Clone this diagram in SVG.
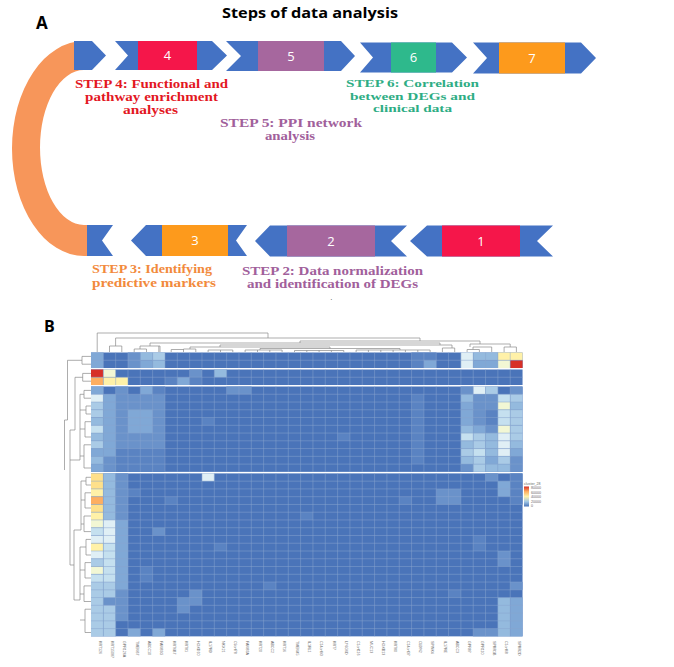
<svg xmlns="http://www.w3.org/2000/svg" width="674" height="667" viewBox="0 0 674 667">
<style>
.bl{fill:#4472C4}
.num{font-family:"Open Sans",sans-serif;font-size:13px;fill:#fff;text-anchor:middle}
.st{font-family:"Liberation Serif",serif;font-weight:bold;font-size:12.2px}
.st6{font-size:10.6px}
.hd{font-family:"Open Sans",sans-serif;font-weight:bold}
.d0{fill:#4a74b9}.c1{fill:#5a83c2}.c2{fill:#6a92ca}.c3{fill:#80a8d6}.c4{fill:#94bade}.c5{fill:#aacbe6}.c6{fill:#c5e0ef}.c7{fill:#e0eff5}
.y1{fill:#f2f7d4}.y2{fill:#fff1a8}.y3{fill:#fee08b}.o1{fill:#fdae61}.r1{fill:#d73027}
.grid{fill:none;stroke:#88a5cf;stroke-width:0.5}
.den{fill:none;stroke:#8a8a8a;stroke-width:0.7}
.gl{font-family:"Liberation Sans",sans-serif;font-size:3.6px;fill:#666}
</style>
<rect width="674" height="667" fill="#fff"/>
<text class="hd" x="36" y="29" font-size="17">A</text>
<text class="hd" x="222" y="18" font-size="14" textLength="176" lengthAdjust="spacingAndGlyphs">Steps of data analysis</text>
<text class="hd" x="44" y="332" font-size="16">B</text>

<g id="arc"><path d="M84 41 A72 107.5 0 0 0 84 256 L90 256 L90 225 L84 225 A44 77.5 0 0 1 84 70 Z" fill="#F7965A"/></g>

<g id="step-top1"><polygon class="bl" points="74,41 92,41 106,55.5 92,70 74,70"/></g>
<g id="step4"><polygon class="bl" points="115,41 212,41 227,55.5 212,70 115,70 128,55.5"/><rect x="138" y="41" width="59" height="29" fill="#F5164A"/><text class="num" x="167.5" y="60">4</text></g>
<g id="step5"><polygon class="bl" points="226,41 341,41 355,56 341,71 226,71 241,56"/><rect x="258" y="41" width="66" height="30" fill="#A6679E"/><text class="num" x="291" y="60.5">5</text></g>
<g id="step6"><polygon class="bl" points="360,42.5 452,42.5 467,57.5 452,72.5 360,72.5 373,57.5"/><rect x="391" y="42.5" width="45" height="30" fill="#2EB98C"/><text class="num" x="413.5" y="62">6</text></g>
<g id="step7"><polygon class="bl" points="473,42.5 581,42.5 596,58 581,73.5 473,73.5 487,58"/><rect x="499" y="42.5" width="66" height="31" fill="#FD9A1C"/><text class="num" x="532" y="63">7</text></g>

<g id="step-bot1"><polygon class="bl" points="87,225 113,225 102,240.5 113,256 87,256"/></g>
<g id="step3"><polygon class="bl" points="131,240.5 146,225 247,225 236,240.5 247,256 146,256"/><rect x="162" y="225" width="66" height="31" fill="#FD9A1C"/><text class="num" x="195" y="245">3</text></g>
<g id="step2"><polygon class="bl" points="255,241 270,225.5 407,225.5 391,241 407,256.5 270,256.5"/><rect x="287" y="225.5" width="88" height="31" fill="#A6679E"/><text class="num" x="331" y="245.5">2</text></g>
<g id="step1"><polygon class="bl" points="410,241 427,225.5 553,225.5 537,241 553,256.5 427,256.5"/><rect x="442" y="225.5" width="78" height="31" fill="#F5164A"/><text class="num" x="481" y="245.5">1</text></g>

<g id="labels">
<g class="st" fill="#E3171F"><text x="75" y="88" textLength="153" lengthAdjust="spacingAndGlyphs">STEP 4: Functional and</text><text x="85" y="101" textLength="133" lengthAdjust="spacingAndGlyphs">pathway enrichment</text><text x="123" y="114" textLength="55" lengthAdjust="spacingAndGlyphs">analyses</text></g>
<g class="st" fill="#A1609B"><text x="220" y="127" textLength="142" lengthAdjust="spacingAndGlyphs">STEP 5: PPI network</text><text x="265" y="139.5" textLength="50" lengthAdjust="spacingAndGlyphs">analysis</text></g>
<g class="st st6" fill="#2EAD84"><text x="346" y="87.3" textLength="133" lengthAdjust="spacingAndGlyphs">STEP 6: Correlation</text><text x="350" y="99.7" textLength="125" lengthAdjust="spacingAndGlyphs">between DEGs and</text><text x="373" y="112.1" textLength="79" lengthAdjust="spacingAndGlyphs">clinical data</text></g>
<g class="st" fill="#F28A3C"><text x="92" y="273" textLength="120" lengthAdjust="spacingAndGlyphs">STEP 3: Identifying</text><text x="92" y="287" textLength="124" lengthAdjust="spacingAndGlyphs">predictive markers</text></g>
<g class="st" fill="#A1609B"><text x="242" y="275" textLength="181" lengthAdjust="spacingAndGlyphs">STEP 2: Data normalization</text><text x="247" y="288" textLength="171" lengthAdjust="spacingAndGlyphs">and identification of DEGs</text></g>
<text x="330.5" y="300" font-family="Liberation Serif" font-size="7" fill="#333">.</text>
</g>

<g id="heatmap">
<g transform="translate(91,352.5) scale(12.33,7.76)">
<rect class="d0" width="35" height="2"/>
<rect class="c3" x="0" y="0" width="1" height="2"/><rect class="c2" x="3" y="0" width="1" height="2"/><rect class="c4" x="4" y="0" width="1" height="1"/><rect class="c3" x="4" y="1" width="1" height="1"/><rect class="c5" x="5" y="0" width="1" height="1"/><rect class="c4" x="5" y="1" width="1" height="1"/>
<rect class="c1" x="26" y="0" width="2" height="1"/><rect class="c1" x="26" y="1" width="1" height="1"/><rect class="c3" x="27" y="1" width="1" height="1"/>
<rect class="c7" x="30" y="0" width="1" height="2"/><rect class="c4" x="31" y="0" width="2" height="1"/><rect class="c3" x="31" y="1" width="2" height="1"/>
<rect class="y2" x="33" y="0" width="2" height="1"/><rect class="y1" x="33" y="1" width="1" height="1"/><rect class="r1" x="34" y="1" width="1" height="1"/>
<path class="grid" vector-effect="non-scaling-stroke" d="M1 0V2M2 0V2M3 0V2M4 0V2M5 0V2M6 0V2M7 0V2M8 0V2M9 0V2M10 0V2M11 0V2M12 0V2M13 0V2M14 0V2M15 0V2M16 0V2M17 0V2M18 0V2M19 0V2M20 0V2M21 0V2M22 0V2M23 0V2M24 0V2M25 0V2M26 0V2M27 0V2M28 0V2M29 0V2M30 0V2M31 0V2M32 0V2M33 0V2M34 0V2M0 1H35"/>
</g>
<g transform="translate(91,369.5) scale(12.33,7.76)">
<rect class="d0" width="35" height="2"/>
<rect class="r1" x="0" y="0" width="1" height="1"/><rect class="y1" x="1" y="0" width="1" height="1"/><rect class="c2" x="8" y="0" width="1" height="1"/><rect class="c4" x="10" y="0" width="1" height="1"/>
<rect class="o1" x="0" y="1" width="1" height="1"/><rect class="y2" x="1" y="1" width="2" height="1"/><rect class="c1" x="6" y="1" width="1" height="1"/><rect class="c3" x="7" y="1" width="1" height="1"/><rect class="c1" x="8" y="1" width="1" height="1"/>
<path class="grid" vector-effect="non-scaling-stroke" d="M1 0V2M2 0V2M3 0V2M4 0V2M5 0V2M6 0V2M7 0V2M8 0V2M9 0V2M10 0V2M11 0V2M12 0V2M13 0V2M14 0V2M15 0V2M16 0V2M17 0V2M18 0V2M19 0V2M20 0V2M21 0V2M22 0V2M23 0V2M24 0V2M25 0V2M26 0V2M27 0V2M28 0V2M29 0V2M30 0V2M31 0V2M32 0V2M33 0V2M34 0V2M0 1H35"/>
</g>
<g transform="translate(91,386.5) scale(12.33,7.76)">
<rect class="d0" width="35" height="11"/>
<rect class="c2" x="1" y="1" width="5" height="10"/><rect class="c1" x="2" y="8" width="4" height="3"/>
<rect class="c3" x="0" y="0" width="1" height="1"/><rect class="c2" x="2" y="0" width="1" height="1"/><rect class="c3" x="4" y="0" width="1" height="1"/><rect class="c1" x="5" y="0" width="1" height="1"/><rect class="c2" x="11" y="0" width="2" height="1"/>
<rect class="c7" x="0" y="1" width="1" height="1"/><rect class="c3" x="1" y="1" width="1" height="1"/>
<rect class="c5" x="0" y="2" width="1" height="1"/><rect class="c5" x="0" y="3" width="1" height="1"/><rect class="c4" x="0" y="4" width="1" height="1"/><rect class="c6" x="0" y="5" width="1" height="1"/><rect class="c4" x="0" y="6" width="1" height="1"/><rect class="c5" x="0" y="7" width="1" height="1"/><rect class="c3" x="0" y="8" width="1" height="1"/><rect class="c4" x="0" y="9" width="1" height="1"/><rect class="c3" x="0" y="10" width="1" height="1"/>
<rect class="c3" x="1" y="2" width="1" height="7"/><rect class="c3" x="3" y="3" width="2" height="3"/>
<rect class="c1" x="26" y="1" width="1" height="9"/><rect class="c1" x="20" y="6" width="1" height="1"/><rect class="c1" x="9" y="4" width="1" height="1"/>
<rect class="c2" x="30" y="0" width="1" height="1"/><rect class="c7" x="31" y="0" width="1" height="1"/><rect class="c5" x="32" y="0" width="1" height="1"/><rect class="c2" x="34" y="0" width="1" height="1"/>
<rect class="c4" x="30" y="1" width="1" height="1"/><rect class="c2" x="31" y="1" width="2" height="1"/><rect class="c6" x="33" y="1" width="1" height="1"/><rect class="c5" x="34" y="1" width="1" height="1"/>
<rect class="c3" x="30" y="2" width="1" height="1"/><rect class="c2" x="31" y="2" width="2" height="1"/><rect class="y1" x="33" y="2" width="1" height="1"/><rect class="c4" x="34" y="2" width="1" height="1"/>
<rect class="c3" x="30" y="3" width="1" height="2"/><rect class="c2" x="31" y="3" width="1" height="2"/><rect class="c1" x="32" y="3" width="1" height="2"/><rect class="c6" x="33" y="3" width="1" height="2"/><rect class="c5" x="34" y="3" width="1" height="2"/>
<rect class="c4" x="30" y="5" width="1" height="1"/><rect class="c3" x="31" y="5" width="1" height="1"/><rect class="c2" x="32" y="5" width="1" height="1"/><rect class="y1" x="33" y="5" width="1" height="1"/><rect class="c5" x="34" y="5" width="1" height="1"/>
<rect class="c6" x="30" y="6" width="1" height="1"/><rect class="c5" x="31" y="6" width="1" height="1"/><rect class="c4" x="32" y="6" width="1" height="1"/><rect class="c7" x="33" y="6" width="1" height="1"/><rect class="c5" x="34" y="6" width="1" height="1"/>
<rect class="c4" x="30" y="7" width="1" height="1"/><rect class="c5" x="31" y="7" width="1" height="1"/><rect class="c4" x="32" y="7" width="1" height="1"/><rect class="c7" x="33" y="7" width="1" height="1"/><rect class="c4" x="34" y="7" width="1" height="1"/>
<rect class="c5" x="30" y="8" width="1" height="1"/><rect class="c6" x="31" y="8" width="1" height="1"/><rect class="c4" x="32" y="8" width="1" height="1"/><rect class="c7" x="33" y="8" width="1" height="1"/><rect class="c3" x="34" y="8" width="1" height="1"/>
<rect class="c4" x="30" y="9" width="1" height="1"/><rect class="c5" x="31" y="9" width="1" height="1"/><rect class="c3" x="32" y="9" width="1" height="1"/><rect class="c5" x="33" y="9" width="1" height="1"/><rect class="c2" x="34" y="9" width="1" height="1"/>
<rect class="c2" x="30" y="10" width="1" height="1"/><rect class="c5" x="31" y="10" width="1" height="1"/><rect class="c4" x="32" y="10" width="1" height="1"/><rect class="c4" x="33" y="10" width="1" height="1"/><rect class="c2" x="34" y="10" width="1" height="1"/>
<path class="grid" vector-effect="non-scaling-stroke" d="M1 0V11M2 0V11M3 0V11M4 0V11M5 0V11M6 0V11M7 0V11M8 0V11M9 0V11M10 0V11M11 0V11M12 0V11M13 0V11M14 0V11M15 0V11M16 0V11M17 0V11M18 0V11M19 0V11M20 0V11M21 0V11M22 0V11M23 0V11M24 0V11M25 0V11M26 0V11M27 0V11M28 0V11M29 0V11M30 0V11M31 0V11M32 0V11M33 0V11M34 0V11M0 1H35M0 2H35M0 3H35M0 4H35M0 5H35M0 6H35M0 7H35M0 8H35M0 9H35M0 10H35"/>
</g>
<g transform="translate(91,473.4) scale(12.33,7.76)">
<rect class="d0" width="35" height="21"/>
<rect class="c7" x="9" y="0" width="1" height="1"/>
<rect class="y3" x="0" y="0" width="1" height="2"/><rect class="y2" x="0" y="2" width="1" height="1"/><rect class="o1" x="0" y="3" width="1" height="1"/><rect class="y3" x="0" y="4" width="1" height="1"/><rect class="y2" x="0" y="5" width="1" height="1"/><rect class="y1" x="0" y="6" width="1" height="1"/><rect class="c6" x="0" y="7" width="1" height="1"/><rect class="c7" x="0" y="8" width="1" height="1"/><rect class="y2" x="0" y="9" width="1" height="1"/><rect class="c7" x="0" y="10" width="1" height="1"/><rect class="c5" x="0" y="11" width="1" height="1"/><rect class="y1" x="0" y="12" width="1" height="1"/><rect class="c6" x="0" y="13" width="1" height="1"/><rect class="c5" x="0" y="14" width="1" height="7"/>
<rect class="c4" x="1" y="0" width="1" height="6"/><rect class="c7" x="1" y="6" width="1" height="3"/><rect class="c6" x="1" y="9" width="1" height="5"/><rect class="c5" x="1" y="14" width="1" height="7"/><rect class="c2" x="1" y="16" width="1" height="1"/>
<rect class="c2" x="2" y="0" width="1" height="6"/><rect class="c3" x="2" y="6" width="1" height="9"/><rect class="c2" x="2" y="15" width="1" height="4"/>
<rect class="c1" x="3" y="2" width="1" height="1"/><rect class="c2" x="5" y="7" width="1" height="1"/><rect class="c1" x="6" y="3" width="1" height="1"/><rect class="c2" x="7" y="16" width="1" height="2"/><rect class="c2" x="8" y="15" width="1" height="2"/><rect class="c3" x="3" y="20" width="1" height="1"/><rect class="c3" x="5" y="20" width="1" height="1"/><rect class="c1" x="4" y="12" width="1" height="2"/><rect class="c1" x="10" y="9" width="1" height="1"/><rect class="c1" x="14" y="14" width="1" height="1"/><rect class="c1" x="17" y="5" width="1" height="1"/>
<rect class="c1" x="25" y="3" width="1" height="1"/><rect class="c2" x="28" y="2" width="2" height="2"/><rect class="c1" x="29" y="15" width="1" height="1"/><rect class="c2" x="32" y="0" width="1" height="1"/><rect class="c3" x="33" y="1" width="1" height="2"/><rect class="c1" x="34" y="0" width="1" height="4"/><rect class="c1" x="31" y="8" width="1" height="2"/><rect class="c2" x="33" y="10" width="1" height="2"/>
<rect class="c4" x="33" y="16" width="1" height="5"/><rect class="c3" x="34" y="16" width="1" height="5"/><rect class="c2" x="31" y="20" width="2" height="1"/><rect class="c2" x="34" y="14" width="1" height="1"/>
<path class="grid" vector-effect="non-scaling-stroke" d="M1 0V21M2 0V21M3 0V21M4 0V21M5 0V21M6 0V21M7 0V21M8 0V21M9 0V21M10 0V21M11 0V21M12 0V21M13 0V21M14 0V21M15 0V21M16 0V21M17 0V21M18 0V21M19 0V21M20 0V21M21 0V21M22 0V21M23 0V21M24 0V21M25 0V21M26 0V21M27 0V21M28 0V21M29 0V21M30 0V21M31 0V21M32 0V21M33 0V21M34 0V21M0 1H35M0 2H35M0 3H35M0 4H35M0 5H35M0 6H35M0 7H35M0 8H35M0 9H35M0 10H35M0 11H35M0 12H35M0 13H35M0 14H35M0 15H35M0 16H35M0 17H35M0 18H35M0 19H35M0 20H35"/>
</g>
</g>

<g id="dendrograms">
<path class="den" d="M97.2 352V333H268V338M115.6 338H420M115.6 338V346M109.5 352V346H121.8V352M420 338V341M300 341H480M480 341V344M470 344H510.2M510.2 344V347M504.1 352V347H516.4V352M470 344V347M473 347H491.7M473 347V349.5M467.1 352V349.5H479.4V352M491.7 347V352M300 341V343M150 343H440M150 343V346M140 346H160M140 346V349M134.2 352V349H146.5V352M160 346V352M440 343V345M220 345H452M220 345V347M452 345V348M442.4 352V348H454.7V352M190 347H330M190 347V349M183.5 352V349H195.8V352M171.2 352V349.5H183.5M330 347V348.5M260 348.5H400M260 348.5V350M400 348.5V350M208.1 352V350H232.8V352M245.1 352V350H282.1V352M294.5 352V350.5H343.8V352M356.1 352V350H430.1V352M220.5 350V352M306.8 350.5V352M319.1 350.5V352M331.4 350.5V352M368.4 350V352M380.8 350V352M393.1 350V352M405.4 350V352M417.8 350V352M257.5 350V352M269.8 350V352M158.8 346V352"/>
<path class="den" d="M91 356.4H82V364.2H91M82 360.3H67.5V420M91 373.4H82.7V381.2H91M82.7 377.3H75V430M75 430H70M67.5 420H64.5V470M91 390.4H84V398.2H91M84 394.3H80V460M91 406H86V414H91M86 410H80M91 421.7H85V437H91M85 429H80M91 444.8H84V468H91M84 456H80M80 460H70M70 430V520M91 477.3H86V485H91M86 481H81V530M91 492.8H85V508H91M85 500H81M91 516H84V531.6H91M84 524H81M81 530H74M91 539.4H86V555H91M86 547H80V600M91 562.6H85V578H91M85 570H80M91 585.9H84V601.5H91M84 594H80M91 609.2H85V632.5H91M85 620H80M80 600H74M74 530V600M74 565H70M70 520V565"/>
</g>

<g id="col-labels" class="gl">
<text transform="translate(98.5,641) rotate(90)">KRT126</text>
<text transform="translate(110.8,641) rotate(90)">KRT15087</text>
<text transform="translate(123.1,641) rotate(90)">GPR126A</text>
<text transform="translate(135.5,641) rotate(90)">TMEM67</text>
<text transform="translate(147.8,641) rotate(90)">ABCC10</text>
<text transform="translate(160.1,641) rotate(90)">FAM83G</text>
<text transform="translate(172.5,641) rotate(90)">KRT6B7</text>
<text transform="translate(184.8,641) rotate(90)">KRT81</text>
<text transform="translate(197.1,641) rotate(90)">HOXD10</text>
<text transform="translate(209.4,641) rotate(90)">IL17RD</text>
<text transform="translate(221.8,641) rotate(90)">NKX21</text>
<text transform="translate(234.1,641) rotate(90)">C9orf78</text>
<text transform="translate(246.4,641) rotate(90)">FAM83A</text>
<text transform="translate(258.8,641) rotate(90)">KRT20</text>
<text transform="translate(271.1,641) rotate(90)">ABCC2</text>
<text transform="translate(283.4,641) rotate(90)">KRT16</text>
<text transform="translate(295.8,641) rotate(90)">TMEM45</text>
<text transform="translate(308.1,641) rotate(90)">IL1RL1</text>
<text transform="translate(320.4,641) rotate(90)">C14orf93</text>
<text transform="translate(332.7,641) rotate(90)">KRT7</text>
<text transform="translate(345.1,641) rotate(90)">LY6G6D</text>
<text transform="translate(357.4,641) rotate(90)">C1orf116</text>
<text transform="translate(369.7,641) rotate(90)">MUC13</text>
<text transform="translate(382.1,641) rotate(90)">HOXB13</text>
<text transform="translate(394.4,641) rotate(90)">KRT80</text>
<text transform="translate(406.7,641) rotate(90)">C14orf37</text>
<text transform="translate(419.1,641) rotate(90)">CLDN2</text>
<text transform="translate(431.4,641) rotate(90)">SPINK4</text>
<text transform="translate(443.7,641) rotate(90)">IL17RE</text>
<text transform="translate(456,641) rotate(90)">ABCC3</text>
<text transform="translate(468.4,641) rotate(90)">GPR87</text>
<text transform="translate(480.7,641) rotate(90)">GPR110</text>
<text transform="translate(493,641) rotate(90)">SPRR1B</text>
<text transform="translate(505.4,641) rotate(90)">C1orf68</text>
<text transform="translate(517.7,641) rotate(90)">SPRR2D</text>
</g>

<g id="legend">
<defs><linearGradient id="lg" x1="0" y1="0" x2="0" y2="1"><stop offset="0" stop-color="#d73027"/><stop offset="0.25" stop-color="#fdae61"/><stop offset="0.5" stop-color="#fff1a8"/><stop offset="0.75" stop-color="#a3c8e5"/><stop offset="1" stop-color="#4a74b9"/></linearGradient></defs>
<text class="gl" x="524" y="485">cluster_28</text>
<rect x="524" y="486.5" width="5" height="20" fill="url(#lg)"/>
<text class="gl" x="531" y="489">80000</text><text class="gl" x="531" y="493.5">60000</text><text class="gl" x="531" y="498">40000</text><text class="gl" x="531" y="502.5">20000</text><text class="gl" x="531" y="507">0</text>
</g>
</svg>
